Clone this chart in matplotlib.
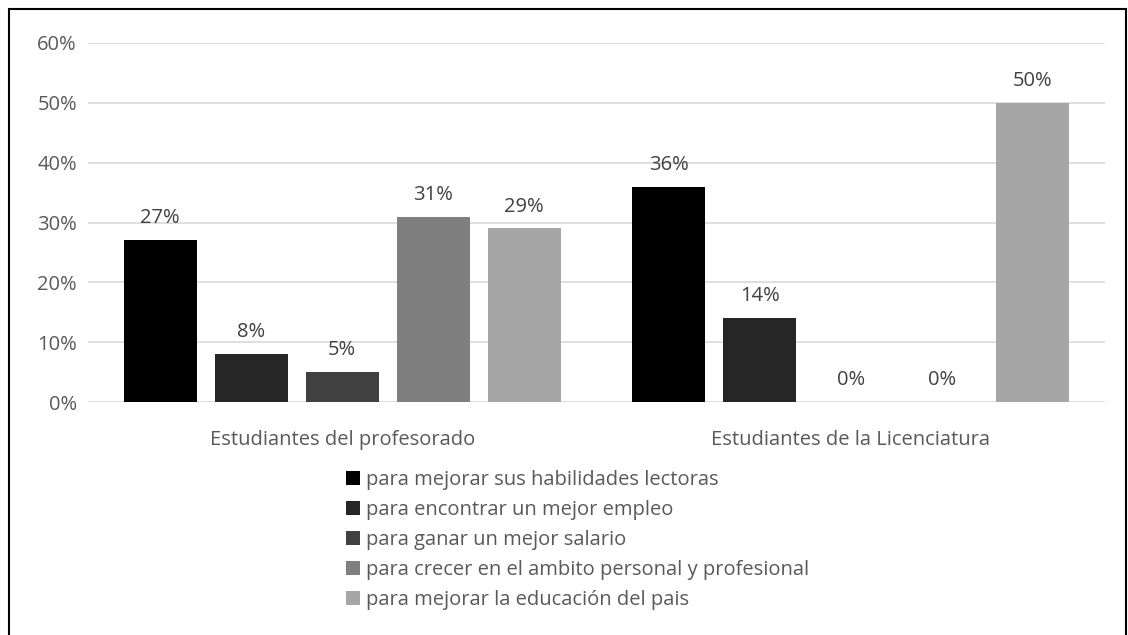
import numpy as np
import matplotlib.pyplot as plt
from matplotlib.patches import Rectangle

plt.rcParams['font.family'] = ['Open Sans', 'DejaVu Sans']

# Data
groups = ['Estudiantes del profesorado', 'Estudiantes de la Licenciatura']
series = ['para mejorar sus habilidades lectoras',
          'para encontrar un mejor empleo',
          'para ganar un mejor salario',
          'para crecer en el ambito personal y profesional',
          'para mejorar la educación del pais']
values = [[27, 36],
          [8, 14],
          [5, 0],
          [31, 0],
          [29, 50]]
colors = ['#000000', '#262626', '#404040', '#7f7f7f', '#a6a6a6']
yticks = [0, 10, 20, 30, 40, 50, 60]

fig = plt.figure(figsize=(11.28, 6.35), dpi=100)
ax = fig.add_axes([88/1128, 1-402/635, 1017/1128, 359/635])

x = np.arange(len(groups))
step = 0.179
width = 0.144
for i, (name, vals) in enumerate(zip(series, values)):
    pos = x + (i - 2) * step
    ax.bar(pos, vals, width, color=colors[i], label=name, zorder=3)
    for p, v in zip(pos, vals):
        ax.text(p, v + 2.0, f'{v}%', ha='center', va='bottom',
                fontsize=14.5, color='#404040', zorder=4)

ax.set_xlim(-0.5, 1.5)
ax.set_ylim(0, 60)
ax.set_yticks(yticks)
ax.set_yticklabels([f'{t}%' for t in yticks], fontsize=14.5, color='#595959')
ax.set_xticks(x)
ax.set_xticklabels(groups, fontsize=14.5, color='#595959')
ax.tick_params(length=0, pad=8)
ax.tick_params(axis='x', pad=20)
ax.grid(axis='y', color='#d9d9d9', linewidth=1.2, zorder=0)
for s in ax.spines.values():
    s.set_visible(False)

leg = fig.legend(loc='upper left', bbox_to_anchor=(338/1128, 1-462/635),
                 frameon=False, fontsize=14.5, handlelength=0.7, handleheight=0.7,
                 handletextpad=0.3, labelspacing=0.5, labelcolor='#595959',
                 borderaxespad=0)

# outer frame
fig.patches.append(Rectangle((9/1128, -0.01), 1117/1128, 1 - 9/635 + 0.01,
                             transform=fig.transFigure, fill=False,
                             edgecolor='black', linewidth=1.5))

fig.savefig('out.png', dpi=100)
